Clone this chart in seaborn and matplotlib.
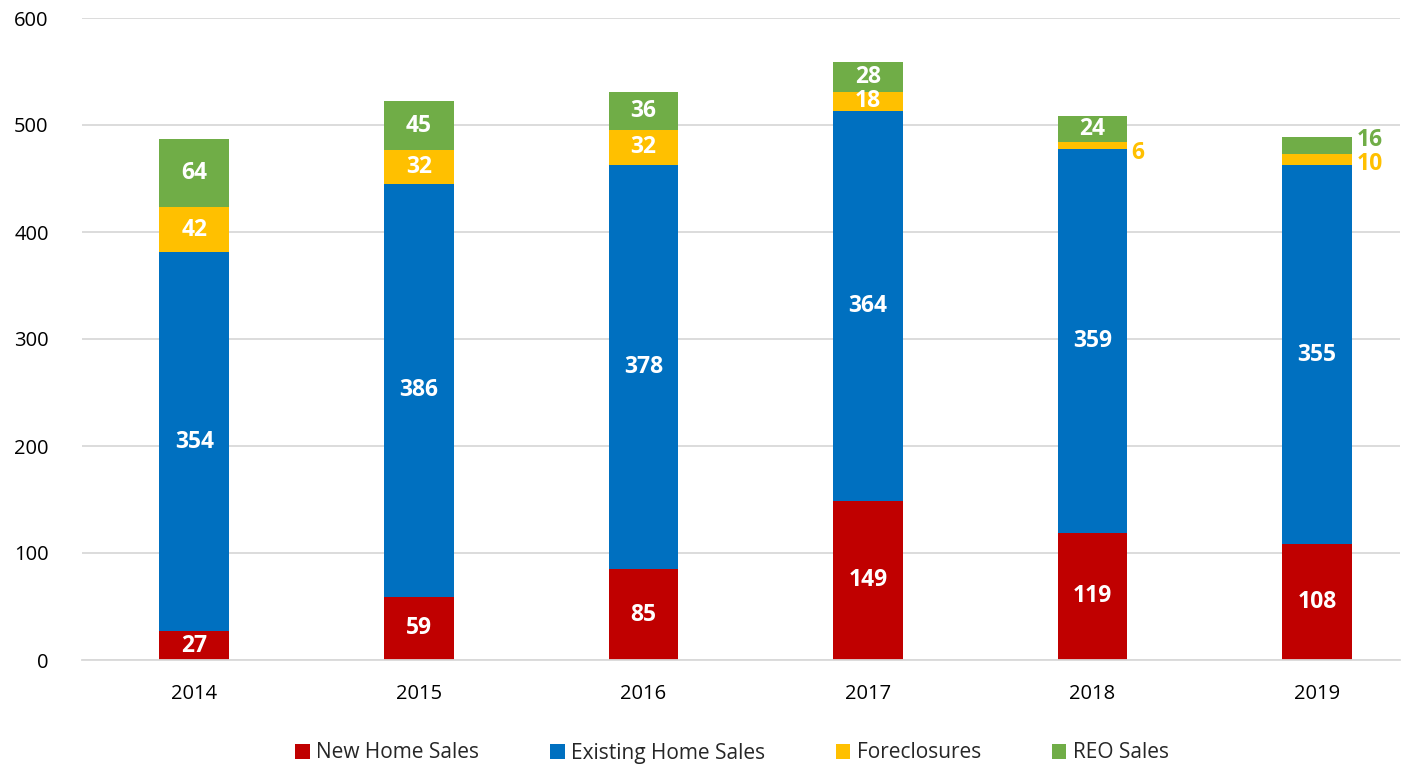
import matplotlib
matplotlib.use("Agg")
import matplotlib.pyplot as plt
import seaborn as sns
import numpy as np
import pandas as pd

years = ["2014", "2015", "2016", "2017", "2018", "2019"]
new_home = [27, 59, 85, 149, 119, 108]
existing = [354, 386, 378, 364, 359, 355]
foreclosures = [42, 32, 32, 18, 6, 10]
reo = [64, 45, 36, 28, 24, 16]

series_names = ["New Home Sales", "Existing Home Sales", "Foreclosures", "REO Sales"]
series_vals = [new_home, existing, foreclosures, reo]
colors = ["#C00000", "#0070C0", "#FFC000", "#70AD47"]

sns.set_theme(style="white")
plt.rcParams['font.family'] = ['Open Sans', 'DejaVu Sans']

fig = plt.figure(figsize=(14.12, 7.68), dpi=100)
ax = fig.add_axes([82/1412, 1 - 660/768, (1400-82)/1412, (660-18)/768])

bottom = np.zeros(len(years))
for name, vals, col in zip(series_names, series_vals, colors):
    df = pd.DataFrame({"year": years, "value": vals})
    sns.barplot(data=df, x="year", y="value", color=col, width=0.31,
                bottom=bottom, ax=ax, label=name, saturation=1, linewidth=0)
    vals = np.array(vals)
    for i, v in enumerate(vals):
        yc = bottom[i] + v / 2
        outside = (name == "Foreclosures" and i >= 4) or (name == "REO Sales" and i == 5)
        if outside:
            if name == "REO Sales":
                ax.text(i + 0.175, bottom[i] + v - 3, str(v), color=col, fontsize=16.5,
                        fontweight="bold", ha="left", va="center")
            else:
                off = -7 if i == 4 else -4
                ax.text(i + 0.175, bottom[i] + v / 2 + off, str(v), color=col, fontsize=16.5,
                        fontweight="bold", ha="left", va="center")
        else:
            ax.text(i, yc, str(v), color="white", fontsize=16.5, fontweight="bold",
                    ha="center", va="center")
    bottom = bottom + vals

leg = ax.get_legend()
if leg is not None:
    leg.remove()

ax.set_ylim(0, 600)
ax.set_xlim(-0.5, 5.37)
ax.set_yticks(range(0, 601, 100))
ax.yaxis.grid(True, color="#D9D9D9", linewidth=1.3)
ax.set_axisbelow(True)
for s in ["top", "right", "left"]:
    ax.spines[s].set_visible(False)
ax.spines["bottom"].set_color("#D9D9D9")
ax.spines["bottom"].set_linewidth(1.3)
ax.set_xlabel("")
ax.set_ylabel("")
ax.tick_params(axis="both", labelsize=14.5, colors="black", length=0)
ax.tick_params(axis="y", pad=24)
ax.tick_params(axis="x", pad=17)

handles, labels = ax.get_legend_handles_labels()
fig.legend(handles, labels, loc="center", bbox_to_anchor=(732/1412, 1 - 753/768),
           ncol=4, frameon=False, fontsize=15, handlelength=0.7, handleheight=0.7,
           handletextpad=0.3, columnspacing=3.4)

fig.savefig("out.png", dpi=100)
